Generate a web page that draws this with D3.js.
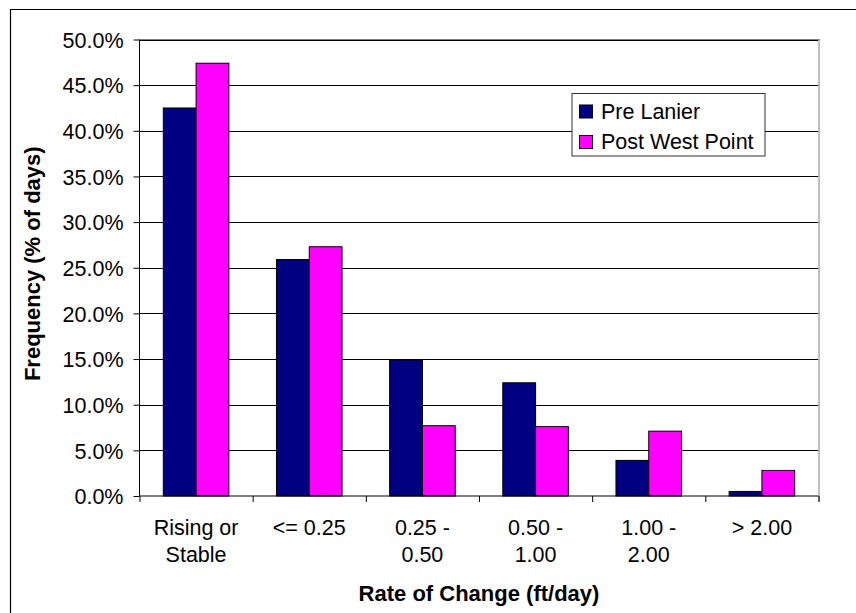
<!DOCTYPE html>
<html>
<head>
<meta charset="utf-8">
<script src="https://cdn.jsdelivr.net/npm/d3@7/dist/d3.min.js"></script>
<style>
  html, body { margin: 0; padding: 0; background: #fff; }
  svg { display: block; }
  text { font-family: "Liberation Sans", Arial, sans-serif; fill: #000; }
</style>
</head>
<body>
<svg id="chart" width="856" height="613"></svg>
<script>
const categories = [["Rising or", "Stable"], ["<= 0.25"], ["0.25 -", "0.50"], ["0.50 -", "1.00"], ["1.00 -", "2.00"], ["> 2.00"]];
const seriesNames = ["Pre Lanier", "Post West Point"];
const seriesColors = ["#000080", "#FF00FF"];
const preLanier = [42.5, 25.9, 14.9, 12.4, 3.9, 0.5];
const postWestPoint = [47.4, 27.3, 7.7, 7.6, 7.1, 2.8];
const yTicks = [0, 5, 10, 15, 20, 25, 30, 35, 40, 45, 50];
const xTitle = "Rate of Change (ft/day)";
const yTitle = "Frequency (% of days)";

const series = [preLanier, postWestPoint];
const svg = d3.select("#chart");

const plot = { left: 139.5, right: 818.5, top: 39.5, bottom: 496 };

// outer chart border (extends beyond the frame)
svg.append("path")
  .attr("d", `M10.5,${613 + 5} L10.5,9.5 L${856 + 5},9.5`)
  .attr("fill", "none").attr("stroke", "#000").attr("stroke-width", 1.2);

const x0 = d3.scaleBand().domain(d3.range(categories.length)).range([plot.left, plot.right]).paddingInner(0).paddingOuter(0);
const groupPad = 23.8;
const x1 = d3.scaleBand().domain(d3.range(series.length))
  .range([groupPad, x0.bandwidth() - groupPad]).padding(0);
const y = d3.scaleLinear().domain([0, 50]).range([plot.bottom, plot.top]);

// gridlines
svg.append("g").selectAll("line").data(yTicks.filter(t => t > 0)).join("line")
  .attr("x1", plot.left).attr("x2", plot.right)
  .attr("y1", d => Math.round(y(d)) + 0.5).attr("y2", d => Math.round(y(d)) + 0.5)
  .attr("stroke", "#000").attr("stroke-width", 1);

// plot area right border (gray)
svg.append("line")
  .attr("x1", plot.right + 0.5).attr("x2", plot.right + 0.5)
  .attr("y1", plot.top - 0.5).attr("y2", plot.bottom + 6)
  .attr("stroke", "#a8a8a8").attr("stroke-width", 1.5);
svg.append("line")
  .attr("x1", plot.left).attr("x2", plot.right + 1)
  .attr("y1", plot.top).attr("y2", plot.top)
  .attr("stroke", "#808080").attr("stroke-width", 1);

// bars
const groups = svg.append("g").selectAll("g").data(categories.map((c, i) => i)).join("g")
  .attr("transform", i => `translate(${x0(i)},0)`);
groups.selectAll("rect").data(i => series.map((s, k) => ({ k, v: s[i] }))).join("rect")
  .attr("x", d => x1(d.k))
  .attr("y", d => y(d.v))
  .attr("width", x1.bandwidth())
  .attr("height", d => plot.bottom - y(d.v))
  .attr("fill", d => seriesColors[d.k])
  .attr("stroke", "#000").attr("stroke-width", 1);

// y axis
const yAxis = d3.axisLeft(y).tickValues(yTicks).tickSize(6).tickPadding(10)
  .tickFormat(d => d3.format(".1f")(d) + "%");
const yg = svg.append("g").attr("transform", `translate(${plot.left},0)`).call(yAxis);
yg.select(".domain").attr("stroke", "#000").attr("d", `M-6,${plot.top}H0V${plot.bottom}H-6`).attr("stroke", "none");
yg.append("line").attr("x1", 0).attr("x2", 0).attr("y1", plot.top).attr("y2", plot.bottom).attr("stroke", "#000");
yg.selectAll(".tick line").attr("stroke", "#000");
yg.selectAll(".tick text").attr("font-size", "21.5px").attr("dy", "0.36em")
  .style("font-family", '"Liberation Sans", Arial, sans-serif').attr("fill", "#000");

// x axis
const xAxisScale = d3.scaleLinear().domain([0, categories.length]).range([plot.left, plot.right]);
const xg = svg.append("g").attr("transform", `translate(0,${plot.bottom})`)
  .call(d3.axisBottom(xAxisScale).tickValues(d3.range(categories.length + 1)).tickSize(6).tickFormat(""));
xg.select(".domain").attr("stroke", "none");
xg.append("line").attr("x1", plot.left).attr("x2", plot.right).attr("y1", 0).attr("y2", 0).attr("stroke", "#000");
xg.selectAll(".tick line").attr("stroke", "#000");

// category labels
const lab = svg.append("g").selectAll("text").data(categories).join("text")
  .attr("x", (c, i) => x0(i) + x0.bandwidth() / 2)
  .attr("y", 535)
  .attr("text-anchor", "middle")
  .attr("font-size", "21.5px");
lab.selectAll("tspan").data((c, i) => c.map(t => ({ t, i }))).join("tspan")
  .attr("x", d => x0(d.i) + x0.bandwidth() / 2)
  .attr("dy", (d, j) => j === 0 ? 0 : 26.5)
  .text(d => d.t);

// axis titles
svg.append("text")
  .attr("x", (plot.left + plot.right) / 2).attr("y", 601)
  .attr("text-anchor", "middle").attr("font-size", "22px").attr("font-weight", "bold")
  .text(xTitle);
svg.append("text")
  .attr("transform", `translate(40,${(plot.top + plot.bottom) / 2 - 4}) rotate(-90)`)
  .attr("text-anchor", "middle").attr("font-size", "22px").attr("font-weight", "bold")
  .text(yTitle);

// legend
const lg = svg.append("g").attr("transform", "translate(572,93.5)");
lg.append("rect").attr("x", 0).attr("y", 0).attr("width", 193).attr("height", 62.5)
  .attr("fill", "#fff").attr("stroke", "#333").attr("stroke-width", 1);
const items = lg.selectAll("g").data(seriesNames).join("g")
  .attr("transform", (d, i) => `translate(0,${i * 30.5})`);
items.append("rect").attr("x", 7.5).attr("y", 11.5).attr("width", 13).attr("height", 13)
  .attr("fill", (d, i) => seriesColors[i]).attr("stroke", "#000").attr("stroke-width", 1);
items.append("text").attr("x", 29).attr("y", 25).attr("font-size", "21.5px").text(d => d);
</script>
</body>
</html>
